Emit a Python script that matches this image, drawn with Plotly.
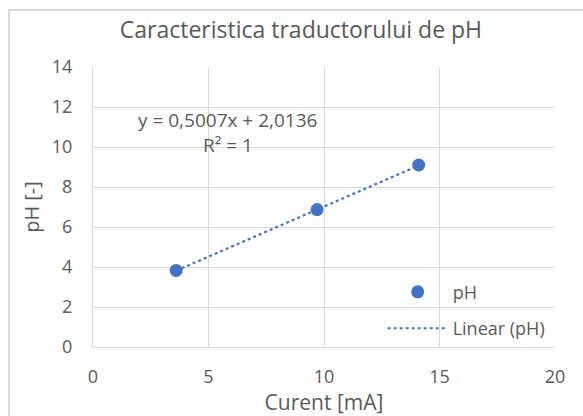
import plotly.graph_objects as go

# Measured sensor characteristic: current [mA] vs pH
current_ma = [3.6, 9.7, 14.1]
ph_values = [3.83, 6.87, 9.1]

# Linear trendline coefficients
slope = 0.5007
intercept = 2.0136
r_squared = 1

x_ticks = [0, 5, 10, 15, 20]
y_ticks = [0, 2, 4, 6, 8, 10, 12, 14]

FONT = "Open Sans"
TEXT = "#595959"
GRID = "#d9d9d9"
BLUE = "#4472C4"

trend_x = [min(current_ma), max(current_ma)]
trend_y = [slope * x + intercept for x in trend_x]

fig = go.Figure()
fig.add_trace(go.Scatter(
    x=current_ma, y=ph_values, mode="markers", name="pH", legendgroup="data",
    marker=dict(color=BLUE, size=13),
))
fig.add_trace(go.Scatter(
    x=trend_x, y=trend_y, mode="lines", name="Linear (pH)", legendgroup="trend",
    line=dict(color=BLUE, width=2.2, dash="dot"),
))

eq_text = f"y = {slope:.4f}x + {intercept:.4f}".replace(".", ",")
fig.add_annotation(
    x=5.84, y=11.35, xref="x", yref="y", text=eq_text, showarrow=False,
    font=dict(family=FONT, size=19, color=TEXT),
)
fig.add_annotation(
    x=5.84, y=10.1, xref="x", yref="y", text=f"R² = {r_squared}", showarrow=False,
    font=dict(family=FONT, size=19, color=TEXT),
)

# Chart area border
fig.add_shape(
    type="rect", xref="paper", yref="paper",
    x0=-0.182, x1=1.2, y0=-0.4, y1=1.204,
    line=dict(color="#d9d9d9", width=2), layer="below",
)

fig.update_layout(
    width=583, height=416,
    margin=dict(l=93, r=28, t=67, b=69),
    paper_bgcolor="white", plot_bgcolor="white",
    font=dict(family=FONT, color=TEXT),
    title=dict(
        text="Caracteristica traductorului de pH",
        x=0.45, xanchor="center", xref="paper",
        y=1 - 30 / 416, yanchor="middle",
        font=dict(family=FONT, size=23, color=TEXT),
    ),
    showlegend=True,
    legend=dict(
        x=0.627, y=0.262, xanchor="left", yanchor="top",
        bgcolor="rgba(0,0,0,0)",
        font=dict(family=FONT, size=18, color=TEXT),
        tracegroupgap=10,
        itemwidth=60,
    ),
)
fig.update_xaxes(
    range=[0, 20], tickvals=x_ticks, showgrid=True, gridcolor=GRID, gridwidth=1,
    showline=True, linecolor=GRID, zeroline=False, ticks="",
    ticklabelstandoff=13,
    tickfont=dict(family=FONT, size=18, color=TEXT),
    title=dict(text="Curent [mA]", font=dict(family=FONT, size=21, color=TEXT), standoff=2),
)
fig.update_yaxes(
    range=[0, 14], tickvals=y_ticks, showgrid=True, gridcolor=GRID, gridwidth=1,
    showline=True, linecolor=GRID, zeroline=False, ticks="",
    ticklabelstandoff=16,
    tickfont=dict(family=FONT, size=18, color=TEXT),
    title=dict(text="pH [-]", font=dict(family=FONT, size=20, color=TEXT), standoff=6),
)

fig.write_html("out.html")
